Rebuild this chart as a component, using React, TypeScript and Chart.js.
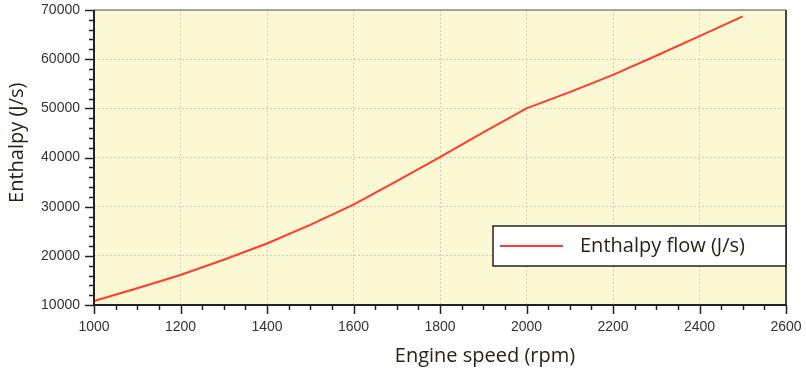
import React, { useEffect, useRef } from "react";
import { Chart, registerables } from "chart.js";

Chart.register(...registerables);

const engineSpeed = [1000, 1100, 1200, 1300, 1400, 1500, 1600, 1700, 1800, 1900, 2000, 2100, 2200, 2300, 2400, 2500];
const enthalpyFlow = [10800, 13400, 16100, 19200, 22500, 26300, 30400, 35200, 40100, 45100, 50000, 53300, 56800, 60700, 64700, 68700];

const seriesLabel = "Enthalpy flow (J/s)";
const xTitle = "Engine speed (rpm)";
const yTitle = "Enthalpy (J/s)";

const xMin = 1000, xMax = 2600, xMajor = 200, xMinor = 50;
const yMin = 10000, yMax = 70000, yMajor = 10000, yMinor = 2000;

const LINE_COLOR = "#ff3b30";
const BG = "#fbf8d3";
const TEXT = "#2a2218";

const zeroPad = (s: any) => {
  s.paddingLeft = 0;
  s.paddingRight = 0;
  s.paddingTop = 0;
  s.paddingBottom = 0;
};

export default function App() {
  const ref = useRef<HTMLCanvasElement>(null);

  useEffect(() => {
    const canvas = ref.current;
    if (!canvas) return;

    const framePlugin = {
      id: "frame",
      beforeDraw(chart: any) {
        const { ctx, chartArea: a } = chart;
        ctx.save();
        ctx.fillStyle = BG;
        ctx.fillRect(a.left, a.top, a.right - a.left, a.bottom - a.top);
        ctx.restore();
      },
      afterDraw(chart: any) {
        const { ctx, chartArea: a } = chart;
        const xs = chart.scales.x;
        const ys = chart.scales.y;
        ctx.save();
        ctx.strokeStyle = "#8a8a8a";
        ctx.lineWidth = 1.5;
        ctx.beginPath();
        ctx.moveTo(a.left, a.top);
        ctx.lineTo(a.right, a.top);
        ctx.stroke();
        ctx.strokeStyle = "#444";
        ctx.lineWidth = 2;
        ctx.beginPath();
        ctx.moveTo(a.right, a.top);
        ctx.lineTo(a.right, a.bottom);
        ctx.stroke();
        ctx.strokeStyle = "#222";
        ctx.beginPath();
        ctx.moveTo(a.left, a.top);
        ctx.lineTo(a.left, a.bottom);
        ctx.lineTo(a.right, a.bottom);
        ctx.stroke();
        ctx.lineWidth = 1.5;
        ctx.strokeStyle = "#222";
        for (let v = xMin; v <= xMax; v += xMinor) {
          const px = Math.round(xs.getPixelForValue(v)) + 0.5;
          const len = v % xMajor === 0 ? 9 : 5;
          ctx.beginPath();
          ctx.moveTo(px, a.bottom);
          ctx.lineTo(px, a.bottom + len);
          ctx.stroke();
        }
        for (let v = yMin; v <= yMax; v += yMinor) {
          const py = Math.round(ys.getPixelForValue(v)) + 0.5;
          const len = v % yMajor === 0 ? 9 : 5;
          ctx.beginPath();
          ctx.moveTo(a.left - len, py);
          ctx.lineTo(a.left, py);
          ctx.stroke();
        }
        const bw = 293, bh = 40;
        const bx = a.right - bw, by = a.top + 216;
        ctx.fillStyle = "#ffffff";
        ctx.fillRect(bx, by, bw, bh);
        ctx.strokeStyle = "#222";
        ctx.lineWidth = 1.5;
        ctx.strokeRect(bx, by, bw, bh);
        ctx.strokeStyle = LINE_COLOR;
        ctx.lineWidth = 2;
        ctx.beginPath();
        ctx.moveTo(bx + 7, by + bh / 2);
        ctx.lineTo(bx + 70, by + bh / 2);
        ctx.stroke();
        ctx.fillStyle = TEXT;
        ctx.font = "20px 'Open Sans'";
        ctx.textAlign = "left";
        ctx.textBaseline = "middle";
        ctx.fillText(chart.data.datasets[0].label, bx + 87, by + bh / 2);
        ctx.textAlign = "center";
        ctx.fillText(xTitle, a.left + 0.565 * (a.right - a.left), 356);
        ctx.save();
        ctx.translate(17, a.top + 0.45 * (a.bottom - a.top));
        ctx.rotate(-Math.PI / 2);
        ctx.fillText(yTitle, 0, 0);
        ctx.restore();
        ctx.restore();
      },
    };

    const chart = new Chart(canvas, {
      type: "line",
      data: {
        datasets: [
          {
            label: seriesLabel,
            data: engineSpeed.map((x, i) => ({ x, y: enthalpyFlow[i] })),
            borderColor: LINE_COLOR,
            borderWidth: 2,
            pointRadius: 0,
            tension: 0,
            fill: false,
          },
        ],
      },
      options: {
        animation: false,
        responsive: false,
        maintainAspectRatio: false,
        layout: { padding: { left: 0, right: 20, top: 10, bottom: 0 } },
        plugins: { legend: { display: false }, tooltip: { enabled: false } },
        scales: {
          x: {
            type: "linear",
            min: xMin,
            max: xMax,
            afterFit: (s: any) => { s.height = 66; zeroPad(s); },
            ticks: {
              stepSize: xMajor,
              padding: 14,
              color: "#333",
              font: { family: "'Liberation Sans'", size: 14 },
              maxRotation: 0,
              callback: (v: any) => String(v),
            },
            grid: { color: "#cfcfc0", lineWidth: 1, drawTicks: false },
            border: { display: false, dash: [2, 2] },
          },
          y: {
            type: "linear",
            min: yMin,
            max: yMax,
            afterFit: (s: any) => { s.width = 94; zeroPad(s); },
            ticks: {
              stepSize: yMajor,
              padding: 14,
              color: "#333",
              font: { family: "'Liberation Sans'", size: 14 },
              callback: (v: any) => String(v),
            },
            grid: { color: "#cfcfc0", lineWidth: 1, drawTicks: false },
            border: { display: false, dash: [2, 2] },
          },
        },
      },
      plugins: [framePlugin],
    });
    return () => chart.destroy();
  }, []);

  return (
    <div style={{ position: "fixed", left: 0, top: 0, width: 806, height: 371, background: "#fff" }}>
      <canvas ref={ref} width={806} height={371} style={{ width: 806, height: 371, display: "block" }} />
    </div>
  );
}
